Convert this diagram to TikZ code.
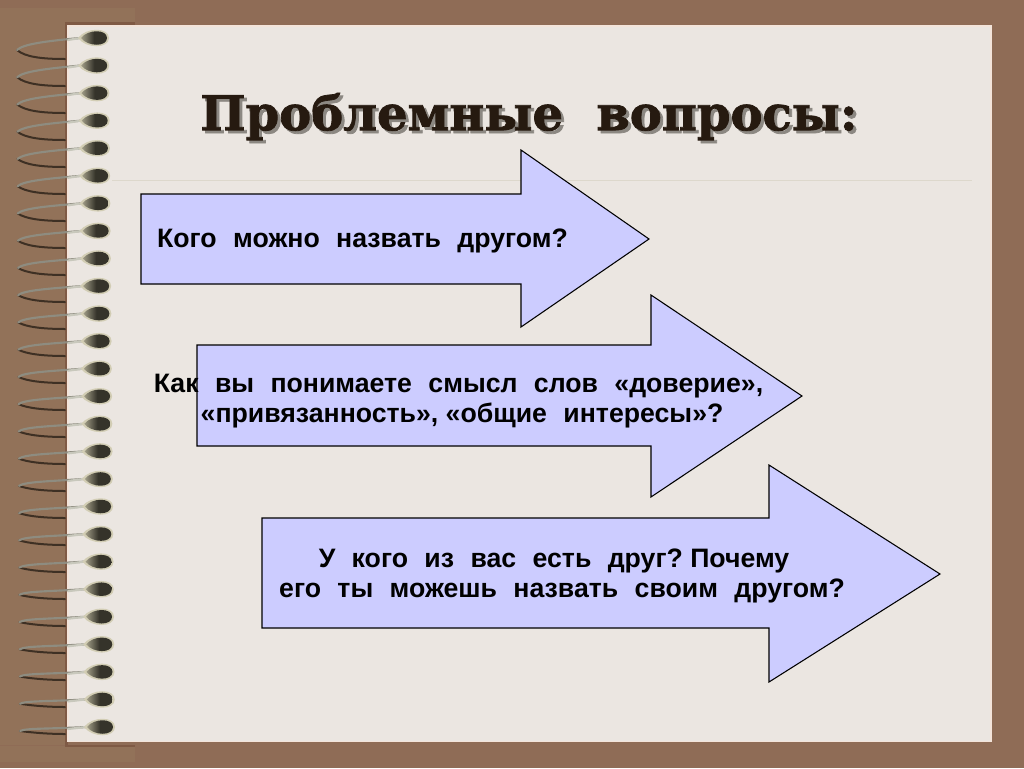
\documentclass[tikz,border=0pt]{standalone}
\usepackage{fontspec}
\setmainfont{Liberation Sans}
\newfontfamily\titlefont[BoldFeatures={FakeBold=1.6}]{DejaVu Serif}
\definecolor{bgbrown}{HTML}{8F6C56}
\definecolor{stripbrown}{HTML}{927259}
\definecolor{edgebrown}{HTML}{7F5A45}
\definecolor{pagefill}{HTML}{EBE6E1}
\definecolor{pageedge}{HTML}{F3E4DA}
\definecolor{rulecol}{HTML}{DDD8CC}
\definecolor{arrowfill}{HTML}{CCCCFF}
\definecolor{titlecol}{HTML}{261A10}
\definecolor{titleshade}{HTML}{8C8882}
\definecolor{wirelight}{HTML}{C8C8BC}
\definecolor{wiredark}{HTML}{3E3024}
\definecolor{wiremid}{HTML}{8E8C80}
\definecolor{beadedge}{HTML}{D2CDB4}
\definecolor{beaddark}{HTML}{35332A}
\definecolor{beadmid}{HTML}{A09C86}
\newcommand{\wgap}{\hspace{12.3pt}}
\tikzset{
  bigarrow/.style={draw=black,line width=0.8pt,fill=arrowfill,line join=miter},
  arrowtext/.style={font=\fontsize{20}{24}\bfseries,text=black,inner sep=0pt,align=center},
  titletext/.style={font=\titlefont\fontsize{36}{43}\bfseries,inner sep=0pt,text=titlecol},
}
\begin{document}
\begin{tikzpicture}[x=0.75pt,y=-0.75pt]
\useasboundingbox (0,0) rectangle (1024,768);
\fill[bgbrown] (0,0) rectangle (1024,768);
\fill[stripbrown] (0,8) rectangle (135,25);
\fill[stripbrown] (0,25) rectangle (65,745);
\fill[stripbrown] (0,746) rectangle (135,762);
\fill[edgebrown] (65,23) rectangle (68,746);
\fill[edgebrown] (65,745) rectangle (135,747);
\fill[edgebrown] (65,22) rectangle (135,25);
\fill[pageedge] (67,25) rectangle (992,742);
\fill[pagefill] (69,27) rectangle (990,741);
\draw[rulecol,line width=0.7pt] (112,180) -- (972,180);
% spiral rings
\foreach \i in {0,...,25}{
  \pgfmathsetmacro{\yy}{38+27.56*\i}
  \pgfmathsetmacro{\t}{\i/25}
  \pgfmathsetmacro{\bx}{94+6*\t}
  \pgfmathsetmacro{\ax}{17+3*\t}
  \pgfmathsetmacro{\ay}{\yy+12-8*\t}
  \pgfmathsetmacro{\ly}{\yy+21-14*\t}
  \pgfmathsetmacro{\cy}{\ay-6+3*\t}
  \pgfmathsetmacro{\dy}{\yy+3-\t}
  \pgfmathsetmacro{\ey}{\ly-2}
  \pgfmathsetmacro{\sx}{\bx-14}
  \pgfmathsetmacro{\sy}{\yy+2}
  \pgfmathsetmacro{\tu}{\yy-11}
  \pgfmathsetmacro{\tl}{\yy+11}
  \pgfmathsetmacro{\iu}{\yy-9}
  \pgfmathsetmacro{\il}{\yy+9}
  \draw[wiredark,line width=1.5pt,line cap=round]
    (\ax,\ay) .. controls (\ax+8,\ey) and (\ax+25,\ly) .. (65,\ly);
  \draw[wiremid,line width=1.6pt,line cap=round]
    (\ax,\ay) .. controls (\ax+6,\cy) and (\ax+30,\dy) .. (\sx,\yy);
  \draw[wirelight,line width=1.6pt,line cap=round] (68,\sy) -- (\sx,\yy);
  \fill[beadedge] (\bx-16,\yy) .. controls (\bx-8,\tu) and (\bx+15,\tu) .. (\bx+15,\yy)
     .. controls (\bx+15,\tl) and (\bx-8,\tl) .. (\bx-16,\yy) -- cycle;
  \shade[left color=beadmid,right color=beaddark,middle color=beaddark]
     (\bx-13,\yy) .. controls (\bx-6,\iu) and (\bx+13,\iu) .. (\bx+13,\yy)
     .. controls (\bx+13,\il) and (\bx-6,\il) .. (\bx-13,\yy) -- cycle;
}
% title
\node[titletext] (title) at (529,118) {\makebox[0pt][l]{\hspace{2.2pt}\raisebox{-2.2pt}{\textcolor{titleshade}{Проблемные~~вопросы:}}}Проблемные~~вопросы:};
% arrows
\draw[bigarrow] (141,194) -- (521,194) -- (521,150) -- (649,239) -- (521,327) -- (521,284) -- (141,284) -- cycle;
\draw[bigarrow] (197,345) -- (651,345) -- (651,295) -- (802,396) -- (651,497) -- (651,446) -- (197,446) -- cycle;
\draw[bigarrow] (262,518) -- (769,518) -- (769,465) -- (940,574) -- (769,682) -- (769,628) -- (262,628) -- cycle;
% texts
\node[arrowtext] (q1) at (362.5,241) {Кого\wgap можно\wgap назвать\wgap другом?};
\node[arrowtext] (q2a) at (458.5,386) {Как\wgap вы\wgap понимаете\wgap смысл\wgap слов\wgap «доверие»,};
\node[arrowtext] (q2b) at (462,415) {«привязанность»,~«общие\wgap интересы»?};
\node[arrowtext] (q3a) at (554,561) {У\wgap кого\wgap из\wgap вас\wgap есть\wgap друг?~Почему};
\node[arrowtext] (q3b) at (562,591) {его\wgap ты\wgap можешь\wgap назвать\wgap своим\wgap другом?};
\end{tikzpicture}
\end{document}
